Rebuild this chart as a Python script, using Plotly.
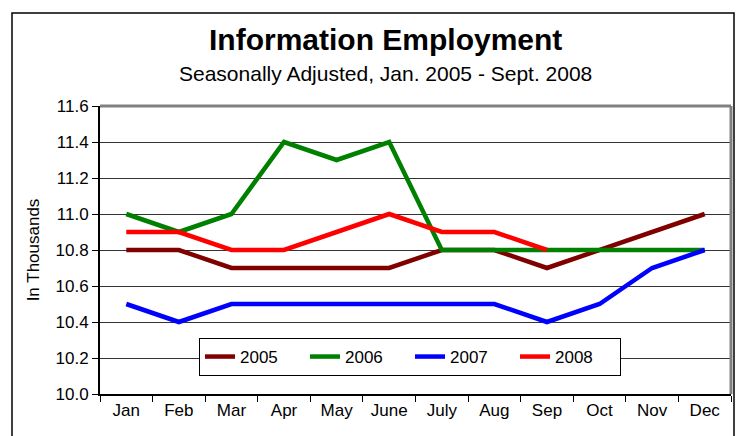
import plotly.graph_objects as go

# Monthly information-sector employment (thousands), seasonally adjusted
months = ["Jan", "Feb", "Mar", "Apr", "May", "June", "July", "Aug", "Sep", "Oct", "Nov", "Dec"]
y2005 = [10.8, 10.8, 10.7, 10.7, 10.7, 10.7, 10.8, 10.8, 10.7, 10.8, 10.9, 11.0]
y2006 = [11.0, 10.9, 11.0, 11.4, 11.3, 11.4, 10.8, 10.8, 10.8, 10.8, 10.8, 10.8]
y2007 = [10.5, 10.4, 10.5, 10.5, 10.5, 10.5, 10.5, 10.5, 10.4, 10.5, 10.7, 10.8]
y2008 = [10.9, 10.9, 10.8, 10.8, 10.9, 11.0, 10.9, 10.9, 10.8]
y_ticks = [10.0, 10.2, 10.4, 10.6, 10.8, 11.0, 11.2, 11.4, 11.6]

W, H = 737, 436
L, R, T, B = 100, 6, 106, 42
pw, ph = W - L - R, H - T - B

def px_x(x):
    return (x - L) / pw

def px_y(y):
    return (H - B - y) / ph

series = [("2005", y2005, "#800000"), ("2006", y2006, "#008000"),
          ("2007", y2007, "#0000FF"), ("2008", y2008, "#FF0000")]

fig = go.Figure()
for name, vals, color in series:
    fig.add_trace(go.Scatter(x=months[:len(vals)], y=vals, name=name, mode="lines",
                             line=dict(color=color, width=4.5)))

font = "Liberation Sans, Arial, sans-serif"
fig.update_layout(
    width=W, height=H,
    margin=dict(l=L, r=R, t=T, b=B),
    paper_bgcolor="white", plot_bgcolor="white",
    font=dict(family=font, size=17, color="black"),
    showlegend=True,
    legend=dict(orientation="h", x=px_x(199), y=px_y(338), xanchor="left", yanchor="top",
                bordercolor="black", borderwidth=1, bgcolor="white",
                font=dict(size=17), entrywidth=60, tracegroupgap=0),
    xaxis=dict(type="category", range=[-0.5, 11.5], tickson="boundaries",
               ticks="outside", ticklen=6, tickcolor="black", tickwidth=1,
               showline=True, linecolor="black", linewidth=2,
               showgrid=False, zeroline=False, fixedrange=True),
    yaxis=dict(range=[10.0, 11.6], tickvals=y_ticks, ticktext=[f"{v:.1f}" for v in y_ticks],
               ticks="outside", ticklen=6, tickcolor="black", tickwidth=1,
               showline=True, linecolor="black", linewidth=2,
               showgrid=True, gridcolor="#333333", gridwidth=1, zeroline=False,
               title=dict(text="In Thousands", font=dict(size=17), standoff=12)),
    annotations=[
        dict(text="<b>Information Employment</b>", x=px_x(385), y=px_y(40), xref="paper", yref="paper",
             xanchor="center", yanchor="middle", showarrow=False, font=dict(size=30)),
        dict(text="Seasonally Adjusted, Jan. 2005 - Sept. 2008", x=px_x(385), y=px_y(73),
             xref="paper", yref="paper", xanchor="center", yanchor="middle", showarrow=False,
             font=dict(size=21)),
    ],
    shapes=[
        # outer chart frame
        dict(type="rect", xref="paper", yref="paper", x0=px_x(12), x1=px_x(734), y0=px_y(460), y1=px_y(13),
             line=dict(color="black", width=1.5), layer="below"),
        # grey top and right edges of the plot area
        dict(type="line", xref="paper", yref="paper", x0=0, x1=1, y0=1, y1=1,
             line=dict(color="#808080", width=3)),
        dict(type="line", xref="paper", yref="paper", x0=1, x1=1, y0=0, y1=1,
             line=dict(color="#808080", width=3)),
    ],
)

fig.write_html("out.html")
